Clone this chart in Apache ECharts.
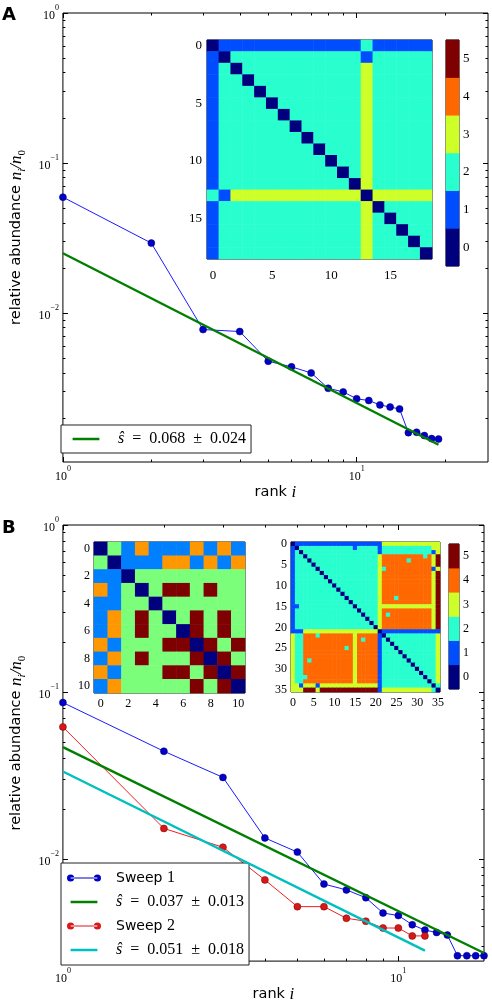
<!DOCTYPE html>
<html>
<head>
<meta charset="utf-8">
<script src="https://cdn.jsdelivr.net/npm/echarts@6/dist/echarts.min.js"></script>
<style>
  html, body { margin: 0; background: #fff; }
  #chart { width: 492px; height: 1004px; }
</style>
</head>
<body>
<div id="chart"></div>
<script>
// ---- panel A: rank-abundance, one sweep ----
const rankA = [1, 2, 3, 4, 5, 6, 7, 8, 9, 10, 11, 12, 13, 14, 15, 16, 17, 18, 19];
const abundanceA = [0.0593, 0.0293, 0.00778, 0.00755, 0.00479, 0.00439, 0.0040, 0.00316, 0.00299, 0.00269,
  0.00262, 0.00245, 0.00237, 0.00230, 0.00160, 0.00161, 0.00153, 0.00146, 0.00145];
const fitRankA = [1, 19];
const fitValueA = [0.0251, 0.00133];

// ---- panel B: two sweeps ----
const rankSweep1 = [1, 2, 3, 4, 5, 6, 7, 8, 9, 10, 11, 12, 13, 14, 15, 16, 17, 18];
const abundanceSweep1 = [0.0866, 0.0443, 0.0309, 0.01342, 0.01104, 0.00711, 0.00656, 0.00589, 0.00477,
  0.00461, 0.00406, 0.00377, 0.00365, 0.00352, 0.00265, 0.00265, 0.00265, 0.00265];
const rankSweep2 = [1, 2, 3, 4, 5, 6, 7, 8, 9, 10, 11, 12];
const abundanceSweep2 = [0.0619, 0.0153, 0.0118, 0.00753, 0.00521, 0.00521, 0.00444, 0.00426, 0.00388,
  0.00388, 0.00348, 0.00348];
const fitRankB1 = [1, 18];
const fitValueB1 = [0.0469, 0.00275];
const fitRankB2 = [1, 12];
const fitValueB2 = [0.0335, 0.00284];

const legendText = {
  fitA: '0.068 \u00b1 0.024',
  fitB1: '0.037 \u00b1 0.013',
  fitB2: '0.051 \u00b1 0.018',
};

// ---- inset matrices (one digit per cell) ----
const matrixA = [
  '0111111111111211111',
  '1022222222222122222',
  '1202222222222322222',
  '1220222222222322222',
  '1222022222222322222',
  '1222202222222322222',
  '1222220222222322222',
  '1222222022222322222',
  '1222222202222322222',
  '1222222220222322222',
  '1222222222022322222',
  '1222222222202322222',
  '1222222222220322222',
  '2133333333333033333',
  '1222222222222302222',
  '1222222222222320222',
  '1222222222222322022',
  '1222222222222322202',
  '1222222222222322220',
];

const matrixBSmall = [
  '02131113131',
  '20111331313',
  '11022222222',
  '31202442422',
  '11220222222',
  '13242024242',
  '13242204242',
  '31222440424',
  '13242224042',
  '31222442404',
  '13222224240',
];

const matrixBLarge = [
  '0 11111111111111111111 1 333333333333 3 3',
  '1 02222222222222122222 1 222222222222 3 3',
  '1 20222222222222222222 1 222222222222 1 3',
  '1 22022222222222222222 3 444444444424 3 5',
  '1 22202222222222222222 3 444444244444 3 5',
  '1 22220222222222222222 3 444444444444 3 5',
  '1 22222022222222222222 3 244444444444 1 3',
  '1 22222202222222222222 3 444444444444 3 5',
  '1 22222220222222222222 3 444444444444 3 5',
  '1 22222222022222222222 3 444444444444 3 5',
  '1 22222222202222222222 3 444444444444 3 5',
  '1 22222222220222222222 3 444444444444 3 5',
  '1 22222222222022222222 3 444444444444 3 5',
  '1 22222222222202222222 3 444244444444 3 5',
  '1 22222222222220222222 3 444444444444 3 5',
  '1 12222222222222022222 3 333333333333 3 5',
  '1 22222222222222202222 3 444444444444 3 5',
  '1 22222222222222220222 3 424444444444 3 5',
  '1 22222222222222222022 3 444444444444 3 5',
  '1 22222222222222222202 3 444444444444 3 5',
  '1 22222222222222222220 3 444444444444 3 5',
  '1 11333333333333333333 0 111111111111 1 1',
  '3 22444244444444344444 1 022222222222 2 3',
  '3 22444444444444342444 1 202222222222 2 3',
  '3 22444444444444344444 1 220222222222 2 3',
  '3 22444444444424344444 1 222022222222 2 3',
  '3 22444444444444344444 1 222202222222 2 3',
  '3 22444444444444344444 1 222220222222 2 3',
  '3 22424444444444344444 1 222222022222 2 3',
  '3 22444444444444344444 1 222222202222 2 3',
  '3 22444444444444344444 1 222222220222 2 3',
  '3 22444444444444344444 1 222222222022 2 3',
  '3 22244444444444344444 1 222222222202 2 3',
  '3 22444444444444344444 1 222222222220 2 3',
  '3 31333133333333333333 1 222222222222 0 2',
  '3 33555355555555555555 1 333333333333 2 0',
];

const levels6 = [0, 1, 2, 3, 4, 5];
const levels5 = [0, 1, 2, 3, 4];
const jet6 = ['#00007f', '#004cff', '#29ffce', '#ceff29', '#ff6800', '#7f0000'];
const jet5 = ['#00007f', '#0080ff', '#7bff7b', '#ff9700', '#7f0000'];

// ---- log-axis ticks ----
const majorX = [1, 10];
const minorX = [2, 3, 4, 5, 6, 7, 8, 9, 20];
const majorY = [0.001, 0.01, 0.1, 1];
const minorY = [0.002, 0.003, 0.004, 0.005, 0.006, 0.007, 0.008, 0.009,
  0.02, 0.03, 0.04, 0.05, 0.06, 0.07, 0.08, 0.09,
  0.2, 0.3, 0.4, 0.5, 0.6, 0.7, 0.8, 0.9];
const labelsY = [0.01, 0.1, 1];

const SERIF = '"Liberation Serif", "DejaVu Serif", serif';
const SANS = '"DejaVu Sans", sans-serif';

const zip = (xs, ys) => xs.map((x, i) => [x, ys[i]]);
const parseRows = (rows) => rows.map((r) => r.replace(/\s+/g, '').split('').map(Number));
const toCells = (m) => {
  const cells = [];
  m.forEach((row, r) => row.forEach((v, c) => cells.push([c, r, v])));
  return cells;
};
const indexLabels = (m) => m.map((_, i) => String(i));

const powerRich = {
  b: { fontFamily: SERIF, fontSize: 12, color: '#000', lineHeight: 18, verticalAlign: 'bottom' },
  e: { fontFamily: SERIF, fontSize: 8, color: '#000', lineHeight: 10, verticalAlign: 'top' },
};
const powerLabel = (v) => {
  const e = Math.round(Math.log10(v));
  return '{b|10}{e|' + (e < 0 ? '\u2212' + (-e) : e) + '}';
};

const nameRich = {
  t: { fontFamily: SANS, fontSize: 14.5, color: '#000', lineHeight: 22 },
  m: { fontFamily: SERIF, fontStyle: 'italic', fontSize: 17, color: '#000', lineHeight: 22 },
  s: { fontFamily: SERIF, fontStyle: 'italic', fontSize: 11, color: '#000', lineHeight: 11, verticalAlign: 'bottom' },
  z: { fontFamily: SERIF, fontSize: 11, color: '#000', lineHeight: 11, verticalAlign: 'bottom' },
};

function logAxisSet(dim, gridIndex, min, max, major, minor, labels, margin, name, nameGap) {
  const sides = dim === 'x' ? ['bottom', 'top'] : ['left', 'right'];
  const common = {
    type: 'log', logBase: 10, gridIndex, min, max,
    splitLine: { show: false }, axisLine: { show: false },
  };
  const tickStyle = { color: '#000', width: 1 };
  const set = [];
  sides.forEach((side, k) => {
    const main = {
      ...common, position: side,
      axisTick: { show: true, inside: true, length: 5, customValues: major, lineStyle: tickStyle },
      axisLabel: { show: false },
    };
    if (k === 0) {
      main.axisLabel = { show: true, customValues: labels, formatter: powerLabel, rich: powerRich, margin };
      main.name = name;
      main.nameLocation = 'middle';
      main.nameGap = nameGap;
      main.nameRotate = dim === 'y' ? 90 : 0;
      main.nameTextStyle = { rich: nameRich };
    }
    set.push(main);
    set.push({
      ...common, position: side,
      axisTick: { show: true, inside: true, length: 2.5, customValues: minor, lineStyle: tickStyle },
      axisLabel: { show: false },
    });
  });
  return set;
}

const heatAxis = (gridIndex, labels, pos, step, fontSize, inverse, margin) => ({
  type: 'category', gridIndex, position: pos, inverse,
  data: labels,
  axisLine: { show: false },
  axisTick: { show: true, inside: true, length: 3, alignWithLabel: true, interval: step - 1, lineStyle: { color: '#000' } },
  axisLabel: { show: true, interval: step - 1, fontFamily: SERIF, fontSize, color: '#000', margin },
  splitLine: { show: false },
});

const cbarX = (gridIndex) => ({ type: 'category', gridIndex, data: [''], show: false });

const X_NAME = '{t|rank }{m|i}';
const Y_NAME = '{t|relative abundance }{m|n}{s|i}{m|/n}{z|0}';

const dotsIcon = 'path://M0,4 A3.6,3.6 0 1,0 7.2,4 A3.6,3.6 0 1,0 0,4 Z M26.8,4 A3.6,3.6 0 1,0 34,4 A3.6,3.6 0 1,0 26.8,4 Z M3.6,3.5 L30.4,3.5 L30.4,4.5 L3.6,4.5 Z';
const lineIcon = 'path://M0,0 L0.01,0 L0,0.01 Z M3.6,2.8 L30.4,2.8 L30.4,5.2 L3.6,5.2 Z M34,8 L33.99,8 L34,7.99 Z';

const legendRich = {
  h: { fontFamily: SERIF, fontStyle: 'italic', fontSize: 16, color: '#000', lineHeight: 18, padding: [0, 0, 0, 10] },
  n: { fontFamily: SERIF, fontSize: 16, color: '#000', lineHeight: 18 },
  w: { fontFamily: SANS, fontSize: 14, color: '#000', lineHeight: 18, padding: [0, 0, 0, 10] },
};
const legendFormatter = (name) => {
  if (legendText[name]) return '{h|\u015d}{n|\u2002=\u2002' + legendText[name].replace(' \u00b1 ', '\u2002\u00b1\u2002') + '}';
  const parts = name.split(' ');
  return '{w|' + parts[0] + ' }{n|' + parts[1] + '}';
};
const legendBase = {
  orient: 'vertical', selectedMode: false, itemWidth: 34, itemHeight: 8, itemGap: 6,
  borderColor: '#222', borderWidth: 1, borderRadius: 0, backgroundColor: '#fff',
  itemStyle: { borderWidth: 0 },
  formatter: legendFormatter, textStyle: { fontSize: 16, lineHeight: 18, rich: legendRich },
};

const mA = parseRows(matrixA);
const mBs = parseRows(matrixBSmall);
const mBl = parseRows(matrixBLarge);

const chart = echarts.init(document.getElementById('chart'), null, { renderer: 'canvas' });

chart.setOption({
  animation: false,
  backgroundColor: '#fff',
  title: [
    { text: 'A', left: 2, top: 6, padding: 0, textStyle: { fontFamily: SANS, fontWeight: 'bold', fontSize: 18, color: '#000' } },
    { text: 'B', left: 2, top: 519, padding: 0, textStyle: { fontFamily: SANS, fontWeight: 'bold', fontSize: 18, color: '#000' } },
  ],
  grid: [
    { left: 52, top: 13, width: 436, height: 449, show: true, borderColor: '#000', borderWidth: 1, backgroundColor: 'transparent' },
    { left: 52, top: 525, width: 432, height: 447, show: true, borderColor: '#000', borderWidth: 1, backgroundColor: 'transparent' },
    { left: 207, top: 40, width: 225, height: 219, show: true, borderColor: '#000', borderWidth: 1 },
    { left: 446, top: 40, width: 13, height: 226, show: true, borderColor: '#000', borderWidth: 1 },
    { left: 94, top: 542, width: 151, height: 151, show: true, borderColor: '#000', borderWidth: 1 },
    { left: 291, top: 542, width: 149, height: 150, show: true, borderColor: '#000', borderWidth: 1 },
    { left: 449, top: 544, width: 10, height: 145, show: true, borderColor: '#000', borderWidth: 1 },
  ],
  xAxis: [
    ...logAxisSet('x', 0, 1, 28, majorX, minorX, majorX, 3, X_NAME, 17),
    ...logAxisSet('x', 1, 1, 18, majorX, minorX, majorX, 6, X_NAME, 17),
    heatAxis(2, indexLabels(mA), 'bottom', 5, 13, false, 10),
    cbarX(3),
    heatAxis(4, indexLabels(mBs), 'bottom', 2, 12, false, 5),
    heatAxis(5, indexLabels(mBl), 'bottom', 5, 12, false, 5),
    cbarX(6),
  ],
  yAxis: [
    ...logAxisSet('y', 0, 0.00102, 1, majorY, minorY, labelsY, 4, Y_NAME, 27),
    ...logAxisSet('y', 1, 0.00246, 1, majorY, minorY, labelsY, 4, Y_NAME, 27),
    heatAxis(2, indexLabels(mA), 'left', 5, 13, true, 5),
    heatAxis(3, levels6.map(String), 'right', 1, 13, false, 4),
    heatAxis(4, indexLabels(mBs), 'left', 2, 12, true, 4),
    heatAxis(5, indexLabels(mBl), 'left', 5, 12, true, 4),
    heatAxis(6, levels6.map(String), 'right', 1, 12, false, 4),
  ],
  visualMap: [
    { type: 'piecewise', show: false, seriesIndex: [6, 7, 9, 10], dimension: 2,
      pieces: levels6.map((v, i) => ({ value: v, color: jet6[i] })) },
    { type: 'piecewise', show: false, seriesIndex: [8], dimension: 2,
      pieces: levels5.map((v, i) => ({ value: v, color: jet5[i] })) },
  ],
  legend: [
    { ...legendBase, left: 61, top: 425, padding: [5, 5, 5, 8], data: [{ name: 'fitA', icon: lineIcon }] },
    { ...legendBase, left: 61, top: 863, padding: [6, 5, 6, 6], itemGap: 6,
      data: [{ name: 'Sweep 1', icon: dotsIcon }, { name: 'fitB1', icon: lineIcon },
             { name: 'Sweep 2', icon: dotsIcon }, { name: 'fitB2', icon: lineIcon }] },
  ],
  series: [
    { name: 'sweepA', type: 'line', xAxisIndex: 0, yAxisIndex: 0, data: zip(rankA, abundanceA),
      symbol: 'circle', symbolSize: 7, lineStyle: { color: '#1a1aff', width: 1 },
      itemStyle: { color: '#0000c8', borderColor: '#00006a', borderWidth: 0.5 }, z: 3 },
    { name: 'fitA', type: 'line', xAxisIndex: 0, yAxisIndex: 0, data: zip(fitRankA, fitValueA),
      symbol: 'none', lineStyle: { color: '#007f00', width: 2.4 }, itemStyle: { color: '#007f00' }, z: 4 },
    { name: 'Sweep 1', type: 'line', xAxisIndex: 4, yAxisIndex: 4, data: zip(rankSweep1, abundanceSweep1),
      symbol: 'circle', symbolSize: 7, lineStyle: { color: '#1a1aff', width: 1 },
      itemStyle: { color: '#0000c8', borderColor: '#00006a', borderWidth: 0.5 }, z: 3 },
    { name: 'fitB1', type: 'line', xAxisIndex: 4, yAxisIndex: 4, data: zip(fitRankB1, fitValueB1),
      symbol: 'none', lineStyle: { color: '#007f00', width: 2.4 }, itemStyle: { color: '#007f00' }, z: 4 },
    { name: 'Sweep 2', type: 'line', xAxisIndex: 4, yAxisIndex: 4, data: zip(rankSweep2, abundanceSweep2),
      symbol: 'circle', symbolSize: 7, lineStyle: { color: '#ee2020', width: 1 },
      itemStyle: { color: '#d81818', borderColor: '#700000', borderWidth: 0.5 }, z: 3 },
    { name: 'fitB2', type: 'line', xAxisIndex: 4, yAxisIndex: 4, data: zip(fitRankB2, fitValueB2),
      symbol: 'none', lineStyle: { color: '#00bfbf', width: 2.4 }, itemStyle: { color: '#00bfbf' }, z: 4 },
    { type: 'heatmap', xAxisIndex: 8, yAxisIndex: 8, data: toCells(mA), emphasis: { disabled: true } },
    { type: 'heatmap', xAxisIndex: 9, yAxisIndex: 9, data: levels6.map((v) => [0, v, v]), emphasis: { disabled: true } },
    { type: 'heatmap', xAxisIndex: 10, yAxisIndex: 10, data: toCells(mBs), emphasis: { disabled: true } },
    { type: 'heatmap', xAxisIndex: 11, yAxisIndex: 11, data: toCells(mBl), emphasis: { disabled: true } },
    { type: 'heatmap', xAxisIndex: 12, yAxisIndex: 12, data: levels6.map((v) => [0, v, v]), emphasis: { disabled: true } },
  ],
});
</script>
</body>
</html>
